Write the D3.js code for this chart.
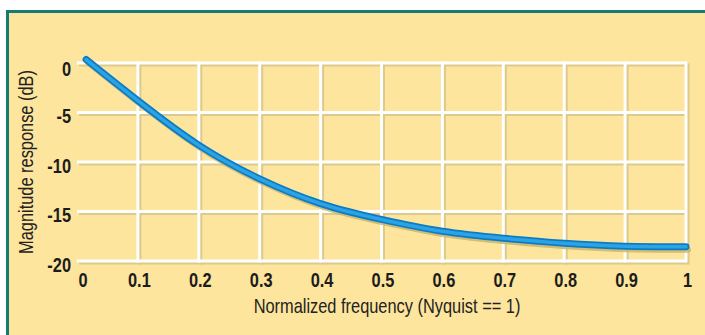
<!DOCTYPE html>
<html>
<head>
<meta charset="utf-8">
<script src="https://cdn.jsdelivr.net/npm/d3@7"></script>
<style>
  html, body { margin: 0; padding: 0; background: #ffffff; }
  svg { display: block; }
  .tick-label { font-family: "Liberation Sans", Arial, sans-serif; font-weight: bold; font-size: 20px; fill: #1c1c1c; }
  .axis-title { font-family: "Liberation Sans", Arial, sans-serif; font-size: 20px; fill: #222222; }
</style>
</head>
<body>
<svg id="chart" width="705" height="335"></svg>
<script>
// Frequency response of the filter: normalized frequency vs magnitude in dB
const freq   = [0.015, 0.1, 0.2, 0.3, 0.4, 0.5, 0.6, 0.7, 0.8, 0.9, 1.0];
const magDb  = [0.35, -3.8, -8.3, -11.7, -14.2, -15.8, -17.0, -17.7, -18.2, -18.5, -18.55];

const xTicks = [0, 0.1, 0.2, 0.3, 0.4, 0.5, 0.6, 0.7, 0.8, 0.9, 1];
const xTickLabels = ["0", "0.1", "0.2", "0.3", "0.4", "0.5", "0.6", "0.7", "0.8", "0.9", "1"];
const yTicks = [0, -5, -10, -15, -20];
const yTickLabels = ["0", "-5", "-10", "-15", "-20"];

const xTitle = "Normalized frequency (Nyquist == 1)";
const yTitle = "Magnitude response (dB)";

// condensed lettering
const narrow = "scale(0.82,1)";

const svg = d3.select("#chart");

// panel with teal frame
svg.append("rect")
  .attr("x", 7.5).attr("y", 11.5)
  .attr("width", 720).attr("height", 340)
  .attr("fill", "#fde59d")
  .attr("stroke", "#167b74")
  .attr("stroke-width", 3);

const x = d3.scaleLinear().domain([0, 1]).range([77, 686]);
const y = d3.scaleLinear().domain([-20, 0]).range([261, 63]);

const gridColor = "#ffffff";
const gridShadow = "#dcc98c";

// grid: shadow first, then white lines
function drawGrid(g, color) {
  g.selectAll("line.h").data(yTicks).join("line")
    .attr("class", "h")
    .attr("x1", x(0)).attr("x2", x(1))
    .attr("y1", d => y(d)).attr("y2", d => y(d))
    .attr("stroke", color).attr("stroke-width", 3);
  g.selectAll("line.v").data(xTicks.filter(d => d > 0)).join("line")
    .attr("class", "v")
    .attr("x1", d => x(d)).attr("x2", d => x(d))
    .attr("y1", y(0) - 1.5).attr("y2", y(-20) + 1.5)
    .attr("stroke", color).attr("stroke-width", 3);
}
drawGrid(svg.append("g").attr("transform", "translate(2,2)"), gridShadow);
drawGrid(svg.append("g"), gridColor);

// axes (labels only; the grid carries the lines)
const xAxis = d3.axisBottom(x)
  .tickValues(xTicks)
  .tickFormat((d, i) => xTickLabels[i])
  .tickSize(0).tickPadding(0);
const gx = svg.append("g").attr("transform", `translate(0,${y(-20)})`).call(xAxis);
gx.select(".domain").remove();
gx.selectAll(".tick")
  .attr("transform", d => `translate(${x(d) + (d === 0 ? 6 : 1.5)},0)`);
gx.selectAll("text")
  .attr("class", "tick-label")
  .attr("font-family", null).attr("font-size", null)
  .attr("fill", null)
  .attr("dy", null)
  .attr("y", 26)
  .attr("transform", narrow);

const yAxis = d3.axisLeft(y)
  .tickValues(yTicks)
  .tickFormat((d, i) => yTickLabels[i])
  .tickSize(0).tickPadding(0);
const gy = svg.append("g").attr("transform", "translate(71,0)").call(yAxis);
gy.select(".domain").remove();
gy.selectAll("text")
  .attr("class", "tick-label")
  .attr("font-family", null).attr("font-size", null)
  .attr("fill", null)
  .attr("x", 0)
  .attr("dy", d => d === 0 ? "0.6em" : "0.5em")
  .attr("transform", narrow);

// axis titles
svg.append("text")
  .attr("class", "axis-title")
  .attr("transform", `translate(387,313) ${narrow}`)
  .attr("text-anchor", "middle")
  .text(xTitle);

svg.append("text")
  .attr("class", "axis-title")
  .attr("transform", `translate(33,162) rotate(-90) ${narrow}`)
  .attr("text-anchor", "middle")
  .text(yTitle);

// response curve: drop shadow, dark body, bright core
const pts = freq.map((f, i) => [f, magDb[i]]);
const line = d3.line()
  .x(d => x(d[0]))
  .y(d => y(d[1]))
  .curve(d3.curveNatural);

svg.append("path")
  .attr("d", line(pts))
  .attr("transform", "translate(2,3)")
  .attr("fill", "none")
  .attr("stroke", "#cbb66e")
  .attr("stroke-width", 6)
  .attr("stroke-linecap", "round")
  .attr("opacity", 0.85);

svg.append("path")
  .attr("d", line(pts))
  .attr("fill", "none")
  .attr("stroke", "#0b7cc4")
  .attr("stroke-width", 7)
  .attr("stroke-linecap", "round");

svg.append("path")
  .attr("d", line(pts))
  .attr("fill", "none")
  .attr("stroke", "#2ba3e4")
  .attr("stroke-width", 3.5)
  .attr("stroke-linecap", "round");
</script>
</body>
</html>
